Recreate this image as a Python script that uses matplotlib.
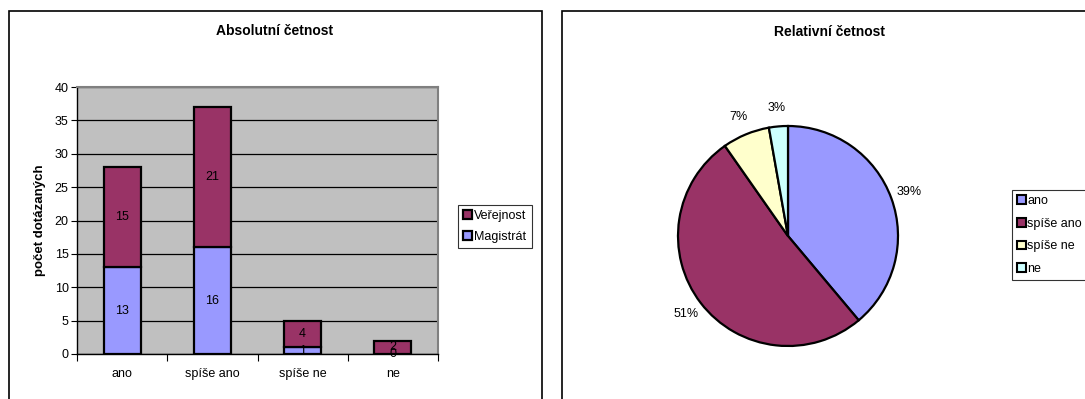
import matplotlib.pyplot as plt
from matplotlib.patches import Rectangle, Patch

plt.rcParams['font.family'] = ['Liberation Sans', 'DejaVu Sans']

# survey answers
categories = ['ano', 'spíše ano', 'spíše ne', 'ne']
magistrat = [13, 16, 1, 0]
verejnost = [15, 21, 4, 2]
totals = [m + v for m, v in zip(magistrat, verejnost)]

W, H = 1085, 399
fig = plt.figure(figsize=(W / 100, H / 100), dpi=100)


def px_axes(x0, y0, x1, y1):
    # axes from pixel box (top-left origin)
    return fig.add_axes([x0 / W, 1 - y1 / H, (x1 - x0) / W, (y1 - y0) / H])


# chart frames
for x0, x1 in [(9, 542), (562, 1090)]:
    fig.patches.append(Rectangle((x0 / W, -0.1), (x1 - x0) / W, 1 - 11 / H + 0.1,
                                 transform=fig.transFigure, fill=False,
                                 edgecolor='black', linewidth=1.2))

# --- stacked bars ---
ax = px_axes(77, 87, 438, 354)
ax.set_facecolor('#C0C0C0')
x = range(len(categories))
b1 = ax.bar(x, magistrat, width=0.41, color='#9999FF', edgecolor='black', linewidth=1.6, zorder=3)
b2 = ax.bar(x, verejnost, width=0.41, bottom=magistrat, color='#993366', edgecolor='black',
            linewidth=1.6, zorder=3)
for i in x:
    ax.text(i, magistrat[i] / 2, str(magistrat[i]), ha='center', va='center', fontsize=9, zorder=4)
    ax.text(i, magistrat[i] + verejnost[i] / 2, str(verejnost[i]), ha='center', va='center',
            fontsize=9, zorder=4)

ax.set_xlim(-0.5, len(categories) - 0.5)
ax.set_ylim(0, 40)
ax.set_yticks(range(0, 41, 5))
ax.yaxis.grid(True, color='black', linewidth=0.9, zorder=1)
ax.set_xticks([i + 0.5 for i in range(-1, len(categories))])
ax.set_xticklabels([])
ax.set_xticks(list(x), minor=True)
ax.set_xticklabels(categories, minor=True)
ax.tick_params(axis='x', which='minor', length=0, pad=10, labelsize=9)
ax.tick_params(axis='x', which='major', length=5, direction='out')
ax.tick_params(axis='y', length=4, labelsize=9, pad=2)
for side in ['top', 'right']:
    ax.spines[side].set_color('#808080')
    ax.spines[side].set_linewidth(1.5)
ax.spines['left'].set_linewidth(1.0)
ax.spines['bottom'].set_linewidth(1.0)
ax.set_ylabel('počet dotázaných', fontsize=9.5, fontweight='bold', labelpad=6)
fig.text(275 / W, 1 - 31 / H, 'Absolutní četnost', ha='center', va='center',
         fontsize=10, fontweight='bold')

leg = ax.legend([b2, b1], ['Veřejnost', 'Magistrát'], loc='upper left',
                bbox_to_anchor=(458 / W, 1 - 205 / H), bbox_transform=fig.transFigure,
                fontsize=9, frameon=True, fancybox=False, edgecolor='black',
                handlelength=0.7, handleheight=0.7, handletextpad=0.2,
                borderpad=0.4, labelspacing=0.7, borderaxespad=0)
leg.get_frame().set_linewidth(0.8)

# --- pie of shares ---
pax = px_axes(678, 126, 898, 346)
wedges, texts, autotexts = pax.pie(
    totals, colors=['#9999FF', '#993366', '#FFFFCC', '#CCFFFF'],
    startangle=90, counterclock=False, radius=1,
    autopct=lambda p: f'{p:.0f}%', pctdistance=1.17,
    wedgeprops=dict(edgecolor='black', linewidth=1.6),
    textprops=dict(fontsize=9))
pax.set_xlim(-1, 1)
pax.set_ylim(-1, 1)
pax.set_aspect('equal')
fig.text(830 / W, 1 - 32 / H, 'Relativní četnost', ha='center', va='center',
         fontsize=10, fontweight='bold')

handles = [Patch(facecolor=w.get_facecolor(), edgecolor='black', linewidth=1.5) for w in wedges]
leg2 = pax.legend(handles, categories, loc='upper left', mode='expand',
                  bbox_to_anchor=(1012 / W, 1 - 190 / H, 110 / W, 0),
                  bbox_transform=fig.transFigure,
                  fontsize=9, frameon=True, fancybox=False, edgecolor='black',
                  handlelength=0.7, handleheight=0.7, handletextpad=0.1,
                  borderpad=0.4, labelspacing=0.85, borderaxespad=0)
leg2.get_frame().set_linewidth(0.8)

fig.savefig('out.png', dpi=100)
